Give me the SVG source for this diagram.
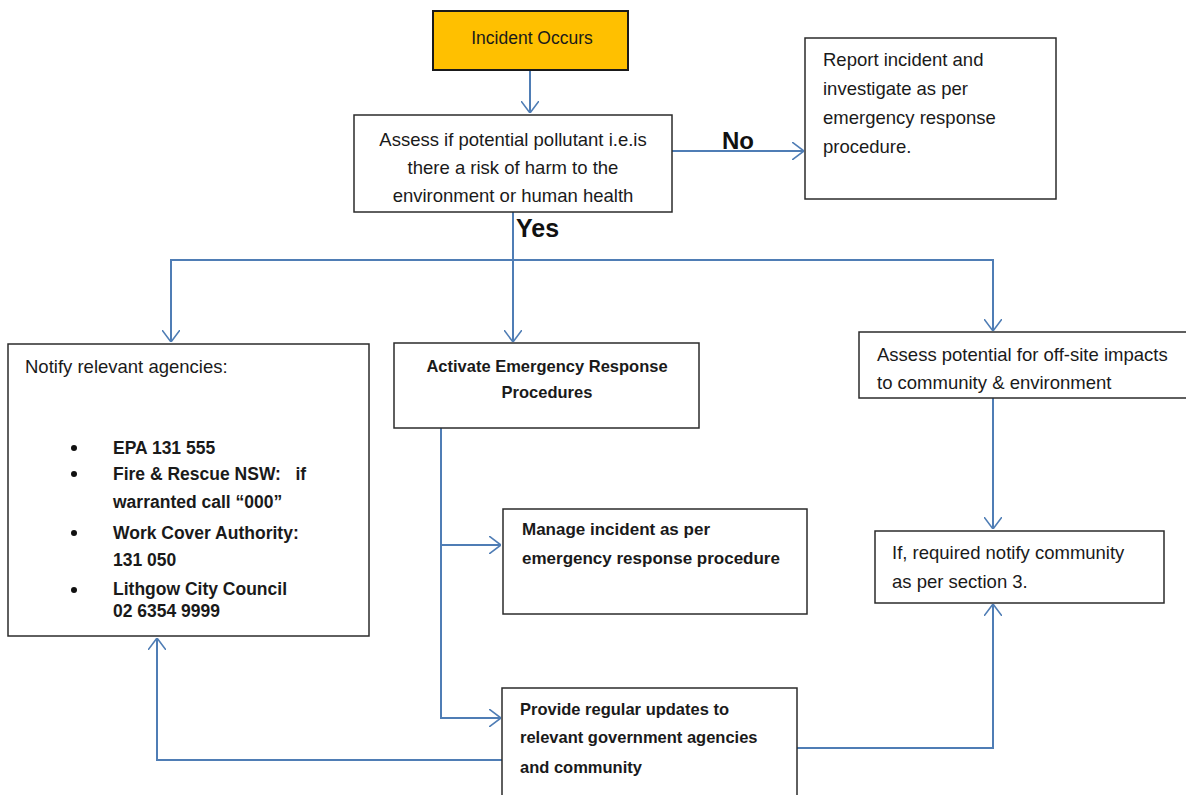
<svg xmlns="http://www.w3.org/2000/svg" width="1186" height="795" viewBox="0 0 1186 795">
<style>
  .box{fill:#fff;stroke:#2b2b2b;stroke-width:1.5}
  .t{font-family:"Liberation Sans",Arial,sans-serif;font-size:18.5px;fill:#1a1a1a}
  .b{font-weight:bold;font-size:17px}
  .c{text-anchor:middle}
  .conn{fill:none;stroke:#4F7DB5;stroke-width:2}
  .lbl{font-family:"Liberation Sans",Arial,sans-serif;font-weight:bold;font-size:24px;fill:#111}
</style>
<defs>
  <marker id="arr" viewBox="0 0 12 18" refX="12" refY="9" markerWidth="12" markerHeight="18" markerUnits="userSpaceOnUse" orient="auto">
    <path d="M0,0 L12,9 L0,18" fill="none" stroke="#4F7DB5" stroke-width="1.6"/>
  </marker>
</defs>
<rect width="1186" height="795" fill="#fff"/>

<g id="connectors">
  <path class="conn" d="M530,70 V113" marker-end="url(#arr)"/>
  <path class="conn" d="M672,151 H804" marker-end="url(#arr)"/>
  <path class="conn" d="M513,212 V260 H171 V342" marker-end="url(#arr)"/>
  <path class="conn" d="M513,260 V342" marker-end="url(#arr)"/>
  <path class="conn" d="M513,260 H993 V331" marker-end="url(#arr)"/>
  <path class="conn" d="M441,428 V718 H501" marker-end="url(#arr)"/>
  <path class="conn" d="M441,545 H501" marker-end="url(#arr)"/>
  <path class="conn" d="M993,398 V529" marker-end="url(#arr)"/>
  <path class="conn" d="M502,760 H157 V638" marker-end="url(#arr)"/>
  <path class="conn" d="M797,748 H993 V604" marker-end="url(#arr)"/>
  <text class="lbl" x="722" y="149">No</text>
  <text class="lbl" x="516" y="237" style="font-size:25px">Yes</text>
</g>

<g id="incident">
  <rect x="433" y="11" width="195" height="59" fill="#FFC000" stroke="#1a1a1a" stroke-width="2"/>
  <text class="t c" x="532" y="44" style="font-size:17.5px">Incident Occurs</text>
</g>

<g id="assess">
  <rect class="box" x="354" y="115" width="318" height="97"/>
  <text class="t c" x="513" y="146">Assess if potential pollutant i.e.is</text>
  <text class="t c" x="513" y="174">there a risk of harm to the</text>
  <text class="t c" x="513" y="202">environment or human health</text>
</g>

<g id="report">
  <rect class="box" x="805" y="38" width="251" height="161"/>
  <text class="t" x="823" y="66">Report incident and</text>
  <text class="t" x="823" y="95">investigate as per</text>
  <text class="t" x="823" y="124">emergency response</text>
  <text class="t" x="823" y="153">procedure.</text>
</g>

<g id="notify">
  <rect class="box" x="8" y="344" width="361" height="292"/>
  <text class="t" x="25" y="373">Notify relevant agencies:</text>
  <circle cx="74" cy="448" r="3" fill="#111"/>
  <circle cx="74" cy="474" r="3" fill="#111"/>
  <circle cx="74" cy="533" r="3" fill="#111"/>
  <circle cx="74" cy="590" r="3" fill="#111"/>
  <g style="font-size:17.5px">
  <text class="t b" x="113" y="454" style="font-size:17.5px">EPA 131 555</text>
  <text class="t b" x="113" y="480" style="font-size:17.5px" xml:space="preserve">Fire &amp; Rescue NSW:   if</text>
  <text class="t b" x="113" y="508" style="font-size:17.5px">warranted call “000”</text>
  <text class="t b" x="113" y="539" style="font-size:17.5px">Work Cover Authority:</text>
  <text class="t b" x="113" y="566" style="font-size:17.5px">131 050</text>
  <text class="t b" x="113" y="595" style="font-size:17.5px">Lithgow City Council</text>
  <text class="t b" x="113" y="617" style="font-size:17.5px">02 6354 9999</text>
  </g>
</g>

<g id="activate">
  <rect class="box" x="394" y="343" width="305" height="85"/>
  <text class="t b c" x="547" y="372" style="font-size:16.5px">Activate Emergency Response</text>
  <text class="t b c" x="547" y="398" style="font-size:16.5px">Procedures</text>
</g>

<g id="manage">
  <rect class="box" x="503" y="509" width="304" height="105"/>
  <text class="t b" x="522" y="535">Manage incident as per</text>
  <text class="t b" x="522" y="564">emergency response procedure</text>
</g>

<g id="provide">
  <rect class="box" x="502" y="688" width="295" height="120"/>
  <text class="t b" x="520" y="715" style="font-size:16.5px">Provide regular updates to</text>
  <text class="t b" x="520" y="743" style="font-size:16.5px">relevant government agencies</text>
  <text class="t b" x="520" y="773" style="font-size:16.5px">and community</text>
</g>

<g id="offsite">
  <rect class="box" x="859" y="332" width="340" height="66"/>
  <text class="t" x="877" y="361">Assess potential for off-site impacts</text>
  <text class="t" x="877" y="389">to community &amp; environment</text>
</g>

<g id="community">
  <rect class="box" x="875" y="531" width="289" height="72"/>
  <text class="t" x="892" y="559">If, required notify community</text>
  <text class="t" x="892" y="588">as per section 3.</text>
</g>
</svg>
